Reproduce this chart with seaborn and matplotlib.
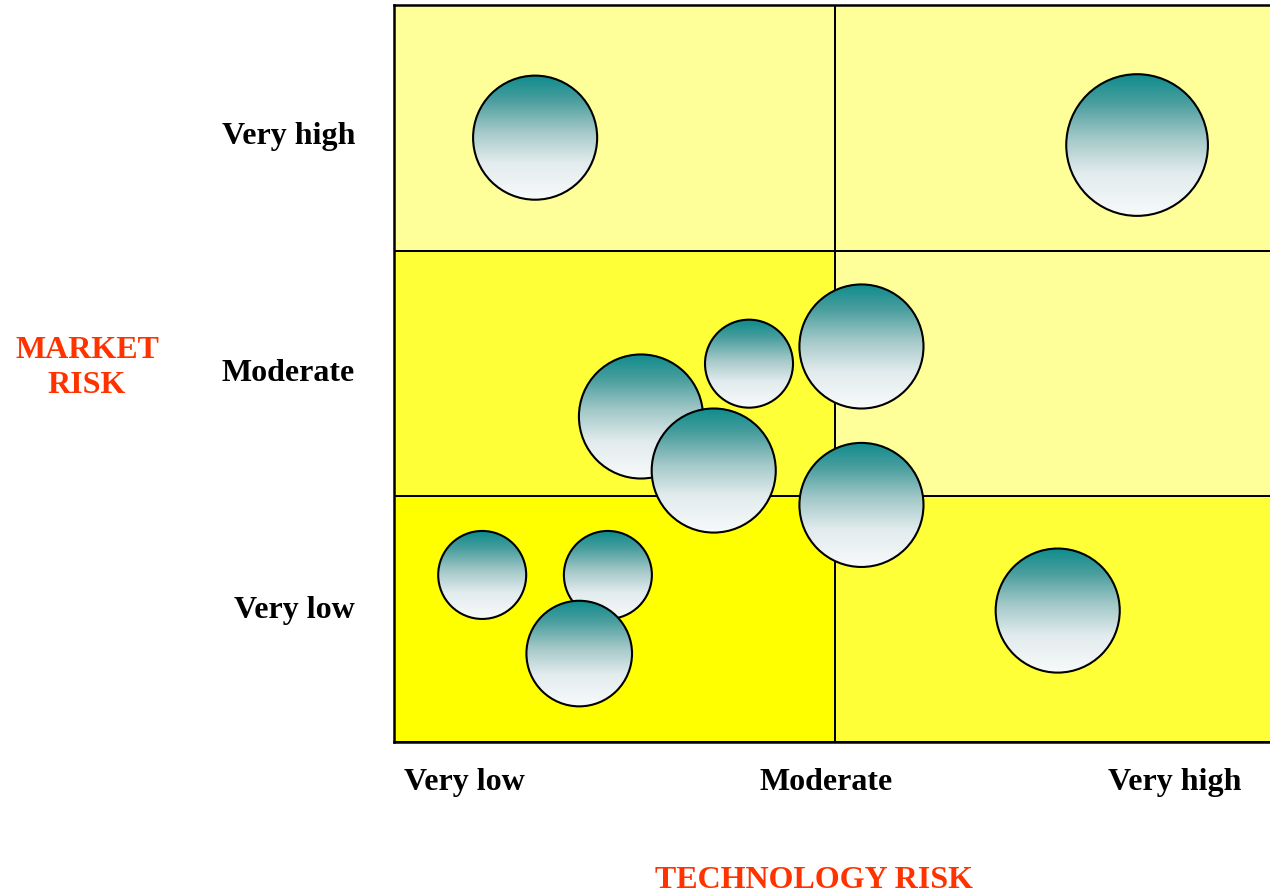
"""Technology vs market risk bubble matrix."""

import matplotlib

matplotlib.use("Agg")
import matplotlib.pyplot as plt
import numpy as np
import pandas as pd
import seaborn as sns
from matplotlib.colors import LinearSegmentedColormap, ListedColormap
from matplotlib.patches import Ellipse

# grid categories and shading level per cell (0 = light, 2 = strong)
market_levels = ["Very low", "Moderate", "Very high"]  # bottom to top
tech_levels = ["Very low", "Very high"]
cell_shade = [
    [2, 1],  # market very low
    [1, 0],  # market moderate
    [0, 0],  # market very high
]
market_tick_pos = [0.54, 1.505, 2.47]
tech_tick_pos = [0.16, 0.98, 1.77]
tech_tick_labels = ["Very low", "Moderate", "Very high"]

# projects: technology risk (0-2), market risk (0-3), relative size
tech_risk = [0.32, 1.685, 0.805, 1.06, 0.56, 0.725, 1.06, 0.20, 0.485, 0.42, 1.505]
market_risk = [2.46, 2.43, 1.54, 1.61, 1.325, 1.105, 0.965, 0.68, 0.68, 0.36, 0.535]
project_size = [1.41, 1.61, 1.0, 1.41, 1.41, 1.41, 1.41, 1.0, 1.0, 1.2, 1.41]

SERIF = "Liberation Serif"
ACCENT = "#FF3300"

fig = plt.figure(figsize=(12.7, 8.95), dpi=100)
ax = fig.add_axes([394 / 1270, 152 / 895, 882 / 1270, 737 / 895])

shade_df = pd.DataFrame(cell_shade, index=market_levels, columns=tech_levels)
sns.heatmap(
    shade_df,
    cmap=ListedColormap(["#FFFF99", "#FFFF38", "#FFFF00"]),
    vmin=-0.5,
    vmax=2.5,
    cbar=False,
    linewidths=1.3,
    linecolor="black",
    ax=ax,
)

# bubbles with a vertical teal -> white gradient
grad_cmap = LinearSegmentedColormap.from_list(
    "bubble",
    [(0.0, "#F8FAFB"), (0.3, "#E2EBED"), (0.55, "#A3C8C8"), (0.8, "#4A9E9E"), (1.0, "#0E8C8C")],
)
gradient = np.linspace(0, 1, 256).reshape(-1, 1)
bbox = ax.get_window_extent()
px_x = bbox.width / 2
px_y = bbox.height / 3
for i, (x, y, s) in enumerate(zip(tech_risk, market_risk, project_size)):
    r = 44 * s
    w, h = 2 * r / px_x, 2 * r / px_y
    z = 10 + 2 * i
    circ = Ellipse((x, y), w, h, facecolor="none", edgecolor="black", lw=1.5, zorder=z + 1)
    ax.add_patch(circ)
    im = ax.imshow(
        gradient,
        cmap=grad_cmap,
        origin="lower",
        extent=[x - w / 2, x + w / 2, y - h / 2, y + h / 2],
        aspect="auto",
        zorder=z,
    )
    im.set_clip_path(circ)

ax.set_xlim(0, 2)
ax.set_ylim(0, 3)
ax.set_aspect("auto")

for side in ["left", "bottom", "top", "right"]:
    ax.spines[side].set_visible(True)
    ax.spines[side].set_color("black")
    ax.spines[side].set_linewidth(1.8)
    ax.spines[side].set_zorder(50)

ax.set_xticks(tech_tick_pos)
ax.set_xticklabels(tech_tick_labels, rotation=0)
ax.set_yticks(market_tick_pos)
ax.set_yticklabels(market_levels, rotation=0, ha="right")
ax.tick_params(axis="both", length=0, labelsize=23)
ax.tick_params(axis="x", pad=18)
ax.tick_params(axis="y", pad=28)
for lab in ax.get_xticklabels() + ax.get_yticklabels():
    lab.set_fontfamily(SERIF)
    lab.set_fontweight("bold")
ax.set_xlabel("")
ax.set_ylabel("")

fig.text(87 / 1270, 1 - 368 / 895, "MARKET\nRISK", ha="center", va="center",
         fontsize=23, fontweight="bold", family=SERIF, color=ACCENT, linespacing=1.3)
fig.text(814 / 1270, 1 - 881 / 895, "TECHNOLOGY RISK", ha="center", va="center",
         fontsize=23, fontweight="bold", family=SERIF, color=ACCENT)

fig.savefig("out.png", dpi=100)
plt.close(fig)
